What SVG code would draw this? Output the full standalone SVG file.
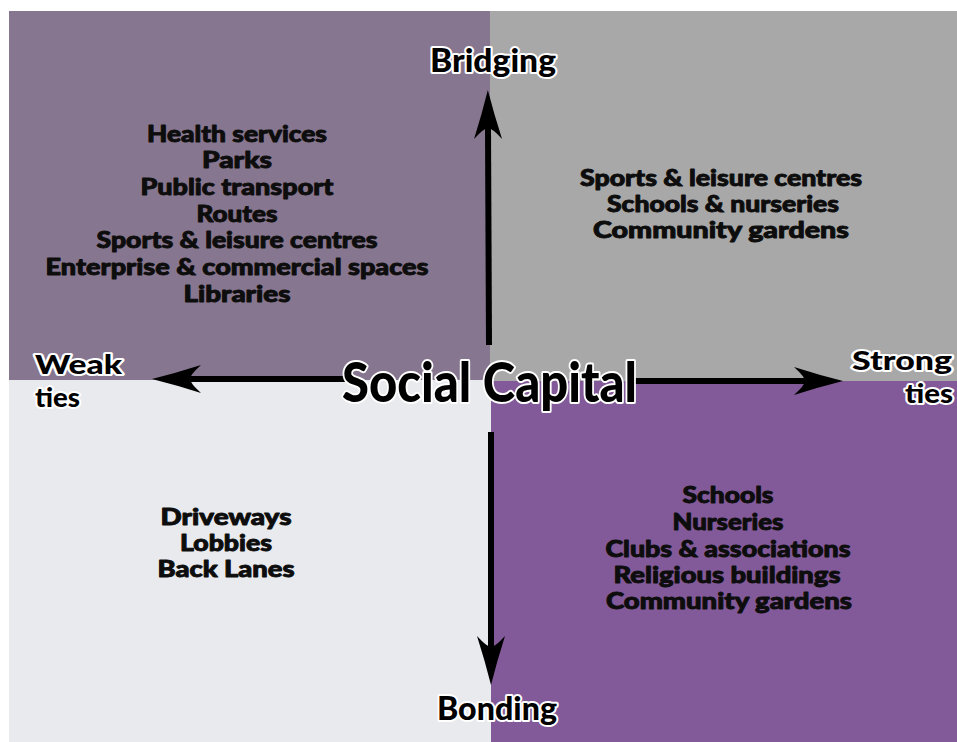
<svg xmlns="http://www.w3.org/2000/svg" width="957" height="742" viewBox="0 0 957 742">
<style>
.list{font-family:"Lato","Liberation Sans",sans-serif;font-weight:900;font-size:22px;fill:#0d0d0d;stroke:#0d0d0d;stroke-width:0.9;stroke-linejoin:round;text-anchor:middle}
.lbl{font-family:"Lato","Liberation Sans",sans-serif;font-weight:900;fill:#000;stroke:#fff;stroke-width:4;paint-order:stroke;stroke-linejoin:round}
.axis{stroke:#000;stroke-width:6;fill:none;marker-end:url(#head)}
</style>
<defs>
<marker id="head" markerUnits="userSpaceOnUse" viewBox="-52 -15 54 30" markerWidth="54" markerHeight="30" refX="-38" refY="0" orient="auto">
<path d="M0,0 Q-24,-6 -49,-14 Q-38,-4 -38,0 Q-38,4 -49,14 Q-24,6 0,0 Z" fill="#000"/>
</marker>
</defs>
<rect width="957" height="742" fill="#fff"/>
<g id="quadrants">
<rect x="9" y="11" width="481" height="369" fill="#87768f"/>
<rect x="490" y="11" width="467" height="370" fill="#a8a8a8"/>
<rect x="9" y="380" width="482" height="362" fill="#e8eaee"/>
<rect x="491" y="381" width="466" height="361" fill="#835a99"/>
</g>
<g id="connectors">
<line class="axis" x1="489" y1="345" x2="488" y2="128"/>
<line class="axis" x1="491" y1="432" x2="491" y2="647"/>
<line class="axis" x1="345" y1="379" x2="190" y2="379"/>
<line class="axis" x1="630" y1="381" x2="805" y2="381"/>
</g>
<g id="bridging-quadrant-weak">
<text class="list" x="237" y="142" textLength="180" lengthAdjust="spacingAndGlyphs">Health services</text>
<text class="list" x="237" y="168" textLength="70" lengthAdjust="spacingAndGlyphs">Parks</text>
<text class="list" x="237" y="195" textLength="193" lengthAdjust="spacingAndGlyphs">Public transport</text>
<text class="list" x="237" y="222" textLength="81" lengthAdjust="spacingAndGlyphs">Routes</text>
<text class="list" x="237" y="248" textLength="281" lengthAdjust="spacingAndGlyphs">Sports &amp; leisure centres</text>
<text class="list" x="237" y="275" textLength="383" lengthAdjust="spacingAndGlyphs">Enterprise &amp; commercial spaces</text>
<text class="list" x="237" y="302" textLength="107" lengthAdjust="spacingAndGlyphs">Libraries</text>
</g>
<g id="bridging-quadrant-strong">
<text class="list" x="721" y="186" textLength="282" lengthAdjust="spacingAndGlyphs">Sports &amp; leisure centres</text>
<text class="list" x="723" y="212" textLength="232" lengthAdjust="spacingAndGlyphs">Schools &amp; nurseries</text>
<text class="list" x="721" y="238" textLength="256" lengthAdjust="spacingAndGlyphs">Community gardens</text>
</g>
<g id="bonding-quadrant-weak">
<text class="list" x="226" y="525" textLength="131" lengthAdjust="spacingAndGlyphs">Driveways</text>
<text class="list" x="226" y="551" textLength="92" lengthAdjust="spacingAndGlyphs">Lobbies</text>
<text class="list" x="226" y="577" textLength="137" lengthAdjust="spacingAndGlyphs">Back Lanes</text>
</g>
<g id="bonding-quadrant-strong">
<text class="list" x="728" y="503" textLength="91" lengthAdjust="spacingAndGlyphs">Schools</text>
<text class="list" x="728" y="530" textLength="111" lengthAdjust="spacingAndGlyphs">Nurseries</text>
<text class="list" x="728" y="557" textLength="245" lengthAdjust="spacingAndGlyphs">Clubs &amp; associations</text>
<text class="list" x="727" y="583" textLength="227" lengthAdjust="spacingAndGlyphs">Religious buildings</text>
<text class="list" x="729" y="609" textLength="246" lengthAdjust="spacingAndGlyphs">Community gardens</text>
</g>
<g id="label-bridging">
<text class="lbl" x="430" y="72" font-size="32" textLength="126" lengthAdjust="spacingAndGlyphs">Bridging</text>
</g>
<g id="label-bonding">
<text class="lbl" x="437" y="720" font-size="32" textLength="120" lengthAdjust="spacingAndGlyphs">Bonding</text>
</g>
<g id="label-weak-ties">
<text class="lbl" x="35" y="374" font-size="26" textLength="87" lengthAdjust="spacingAndGlyphs">Weak</text>
<text class="lbl" x="35" y="407" font-size="26" textLength="45" lengthAdjust="spacingAndGlyphs">ties</text>
</g>
<g id="label-strong-ties">
<text class="lbl" x="852" y="370" font-size="26" textLength="100" lengthAdjust="spacingAndGlyphs">Strong</text>
<text class="lbl" x="905" y="403" font-size="26" textLength="48" lengthAdjust="spacingAndGlyphs">ties</text>
</g>
<g id="label-social-capital">
<text class="lbl" x="342" y="402" font-size="56" stroke-width="5" textLength="295" lengthAdjust="spacingAndGlyphs">Social Capital</text>
</g>
</svg>
